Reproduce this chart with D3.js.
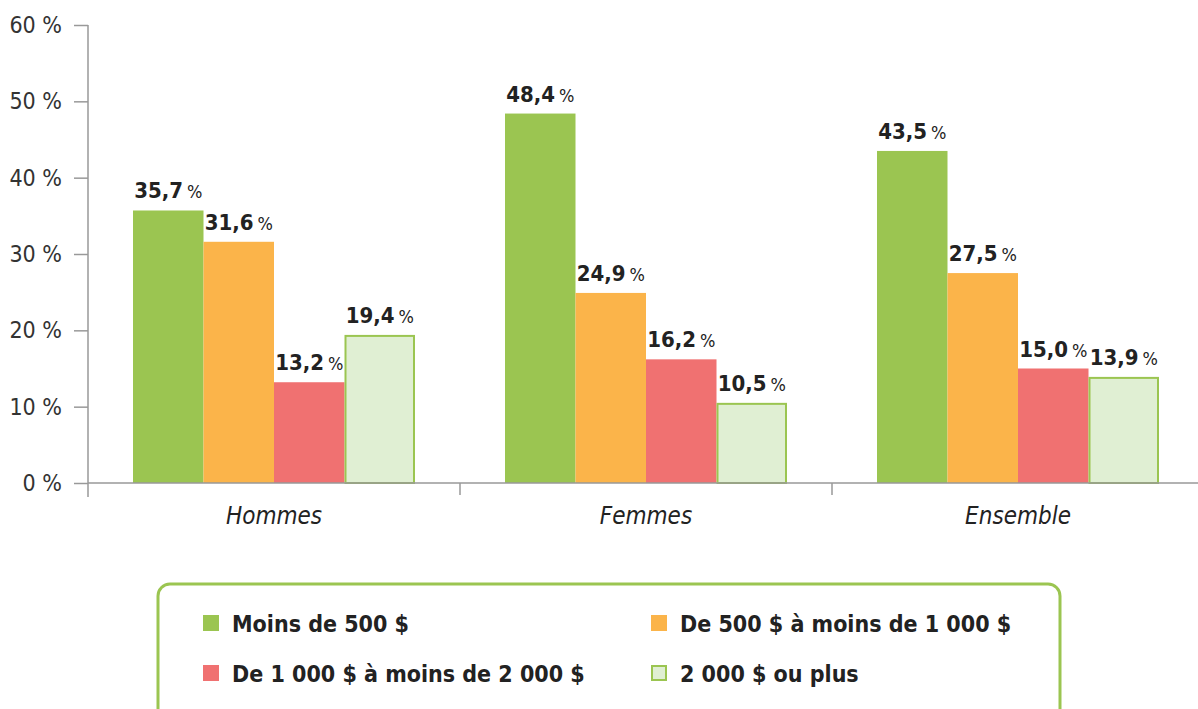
<!DOCTYPE html>
<html>
<head>
<meta charset="utf-8">
<script src="https://cdn.jsdelivr.net/npm/d3@7"></script>
<style>
  body { margin: 0; background: #fff; }
  svg text { font-family: "DejaVu Sans Condensed", "DejaVu Sans", sans-serif; }
</style>
</head>
<body>
<div id="chart"></div>
<script>
var groups = ["Hommes", "Femmes", "Ensemble"];
var series = ["Moins de 500 $", "De 500 $ à moins de 1 000 $", "De 1 000 $ à moins de 2 000 $", "2 000 $ ou plus"];
var moins500 = [35.7, 48.4, 43.5];
var de500a1000 = [31.6, 24.9, 27.5];
var de1000a2000 = [13.2, 16.2, 15.0];
var plus2000 = [19.4, 10.5, 13.9];
var yTicks = [0, 10, 20, 30, 40, 50, 60];

var fills = ["#9bc551", "#fbb44a", "#f07171", "#e0efd3"];

var values = [moins500, de500a1000, de1000a2000, plus2000];
var data = [];
groups.forEach(function (g, i) {
    series.forEach(function (s, j) {
        data.push({ group: g, key: s, idx: j, value: values[j][i] });
    });
});

var width = 1198, height = 709;
var svg = d3.select("#chart").append("svg")
    .attr("width", width)
    .attr("height", height);

// scales
var x = d3.scaleBand().domain(groups).range([88, 1204]).padding(0);
var xs = d3.scaleBand().domain(series).range([45, 327]).padding(0);
var y = d3.scaleLinear().domain([0, 60]).range([483, 25]);

// y axis
var yAxis = svg.append("g")
    .attr("transform", "translate(88,0)")
    .call(d3.axisLeft(y).tickValues(yTicks).tickSize(14).tickPadding(12)
        .tickFormat(function (d) { return d + " %"; }));
yAxis.select(".domain").attr("stroke", "#999").attr("stroke-width", 1.5)
    .attr("d", "M0," + y(60) + "V497");
yAxis.selectAll(".tick line").attr("stroke", "#999").attr("stroke-width", 1.5);
yAxis.selectAll(".tick text").attr("fill", "#333").style("font-size", "23px");

// bars
svg.append("g").selectAll("rect")
    .data(data)
    .enter().append("rect")
    .attr("x", function (d) { return x(d.group) + xs(d.key) + (d.idx == 3 ? 1 : 0); })
    .attr("y", function (d) { return y(d.value) + (d.idx == 3 ? 1 : 0); })
    .attr("width", function (d) { return xs.bandwidth() - (d.idx == 3 ? 2 : 0); })
    .attr("height", function (d) { return y(0) - y(d.value) - (d.idx == 3 ? 1 : 0); })
    .attr("fill", function (d) { return fills[d.idx]; })
    .attr("stroke", function (d) { return d.idx == 3 ? "#9bc551" : "none"; })
    .attr("stroke-width", 2);

// x axis
var xAxis = svg.append("g").attr("transform", "translate(0,483)");
xAxis.append("line").attr("x1", 88).attr("x2", 1198).attr("y1", 0).attr("y2", 0)
    .attr("stroke", "#999").attr("stroke-width", 1.5);
xAxis.selectAll(".sep")
    .data(groups.slice(1))
    .enter().append("line")
    .attr("x1", function (d) { return x(d); })
    .attr("x2", function (d) { return x(d); })
    .attr("y1", 0).attr("y2", 12)
    .attr("stroke", "#999").attr("stroke-width", 1.5);
xAxis.selectAll(".cat")
    .data(groups)
    .enter().append("text")
    .attr("x", function (d) { return x(d) + x.bandwidth() / 2; })
    .attr("y", 41)
    .attr("text-anchor", "middle")
    .attr("fill", "#222")
    .style("font-size", "24px")
    .style("font-style", "italic")
    .text(function (d) { return d; });

// value labels
var lab = svg.append("g").selectAll("text")
    .data(data)
    .enter().append("text")
    .attr("x", function (d) { return x(d.group) + xs(d.key) + xs.bandwidth() / 2; })
    .attr("y", function (d) { return y(d.value) - 12; })
    .attr("text-anchor", "middle")
    .attr("fill", "#222");
lab.append("tspan")
    .style("font-size", "22px").style("font-weight", "bold")
    .text(function (d) { return d3.format(".1f")(d.value).replace(".", ","); });
lab.append("tspan")
    .attr("dx", 4)
    .style("font-size", "18px")
    .text("%");

// legend
var legend = svg.append("g");
legend.append("rect")
    .attr("x", 158).attr("y", 584).attr("width", 902).attr("height", 140)
    .attr("rx", 12)
    .attr("fill", "none").attr("stroke", "#9bc551").attr("stroke-width", 3);
var lpos = [[203, 623], [651, 623], [203, 673], [651, 673]];
var items = legend.selectAll(".item")
    .data(series)
    .enter().append("g")
    .attr("transform", function (d, i) { return "translate(" + lpos[i][0] + "," + lpos[i][1] + ")"; });
items.append("rect")
    .attr("x", function (d, i) { return i == 3 ? 1 : 0; })
    .attr("y", function (d, i) { return i == 3 ? -7 : -8; })
    .attr("width", function (d, i) { return i == 3 ? 14 : 16; })
    .attr("height", function (d, i) { return i == 3 ? 14 : 16; })
    .attr("fill", function (d, i) { return fills[i]; })
    .attr("stroke", function (d, i) { return i == 3 ? "#9bc551" : "none"; })
    .attr("stroke-width", 2);
items.append("text")
    .attr("x", 29).attr("y", 9)
    .attr("fill", "#222")
    .style("font-size", "23px").style("font-weight", "bold")
    .text(function (d) { return d; });
</script>
</body>
</html>
